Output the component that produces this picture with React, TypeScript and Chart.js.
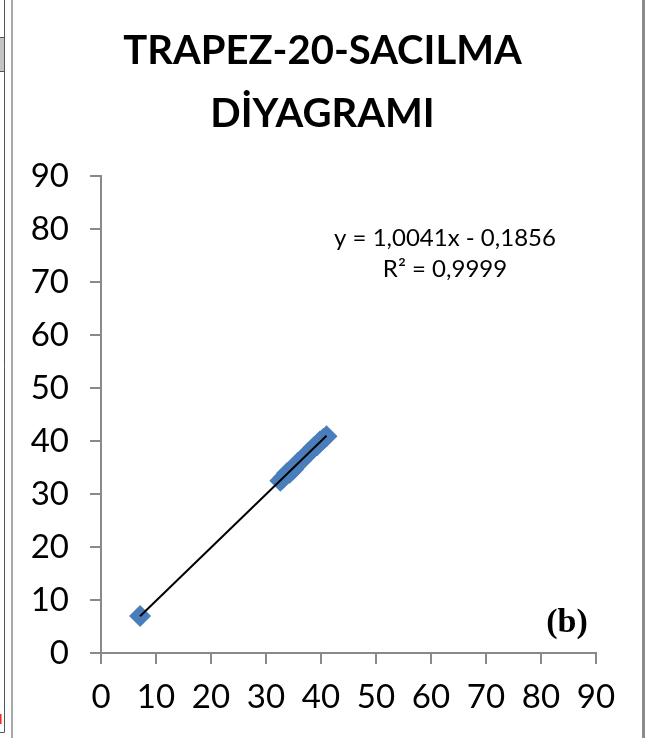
import React, { useEffect, useRef } from "react";
import { Chart, registerables } from "chart.js";

Chart.register(...registerables);

const titleLines = ["TRAPEZ-20-SACILMA", "DİYAGRAMI"];
const xTicks = [0, 10, 20, 30, 40, 50, 60, 70, 80, 90];
const yTicks = [0, 10, 20, 30, 40, 50, 60, 70, 80, 90];
const measuredX = [7.1, 32.6, 33.2, 33.8, 34.3, 34.9, 35.3, 35.8, 36.4, 37.0, 37.6, 38.1, 38.7, 39.3, 39.8, 40.4, 41.0];
const measuredY = [7.0, 32.5, 33.1, 33.9, 34.0, 34.6, 35.2, 35.9, 36.3, 37.0, 37.7, 38.1, 38.8, 39.2, 39.9, 40.4, 40.9];
const slope = 1.0041;
const intercept = -0.1856;
const equationLines = ["y = 1,0041x - 0,1856", "R² = 0,9999"];
const panelLabel = "(b)";

const AXIS_GRAY = "#898989";
const MARKER_BLUE = "#4a7ebb";

export default function App() {
  const ref = useRef<HTMLCanvasElement | null>(null);

  useEffect(() => {
    if (!ref.current) return;
    const xMin = Math.min(...measuredX);
    const xMax = Math.max(...measuredX);
    const trend = [
      { x: xMin, y: slope * xMin + intercept },
      { x: xMax, y: slope * xMax + intercept },
    ];
    const points = measuredX.map((x, i) => ({ x, y: measuredY[i] }));

    const decorPlugin = {
      id: "decor",
      beforeDraw(chart: any) {
        const ctx = chart.ctx;
        ctx.save();
        ctx.fillStyle = "#ffffff";
        ctx.fillRect(0, 0, chart.width, chart.height);
        ctx.fillStyle = "#c4c4c4";
        ctx.fillRect(0, 37, 5, 35);
        ctx.strokeStyle = "#555555";
        ctx.lineWidth = 1;
        ctx.strokeRect(-1, 37.5, 5.5, 34);
        ctx.beginPath();
        ctx.moveTo(4.5, 0);
        ctx.lineTo(4.5, 732.5);
        ctx.lineTo(0, 732.5);
        ctx.stroke();
        ctx.fillStyle = "#ff2020";
        ctx.fillRect(0, 714, 1.5, 10);
        ctx.fillStyle = "#a8a8a8";
        ctx.fillRect(11, 0, 2, chart.height);
        ctx.fillStyle = "#8c8c8c";
        ctx.fillRect(642, 0, 3, chart.height);
        ctx.restore();
      },
      afterDraw(chart: any) {
        const ctx = chart.ctx;
        ctx.save();
        ctx.fillStyle = "#000000";
        ctx.textAlign = "center";
        ctx.textBaseline = "middle";
        ctx.font = "24px Lato";
        ctx.fillText(equationLines[0], 445, 238);
        ctx.fillText(equationLines[1], 445, 269);
        ctx.font = 'bold 34px "Liberation Serif"';
        ctx.fillText(panelLabel, 567, 623);
        ctx.restore();
      },
    };

    const chart = new Chart(ref.current, {
      type: "scatter",
      data: {
        datasets: [
          {
            type: "line",
            label: "Trend",
            data: trend,
            borderColor: "#000000",
            borderWidth: 2,
            pointRadius: 0,
            fill: false,
            showLine: true,
            yAxisID: "y",
          } as any,
          {
            label: "Data",
            data: points,
            backgroundColor: MARKER_BLUE,
            borderColor: MARKER_BLUE,
            borderWidth: 0,
            pointStyle: "rectRot",
            pointRadius: 11,
            yAxisID: "y",
          },
        ],
      },
      options: {
        animation: false,
        responsive: false,
        events: [],
        layout: { padding: { left: 0, right: 0, top: 0, bottom: 0 } },
        plugins: {
          legend: { display: false },
          tooltip: { enabled: false },
          title: {
            display: true,
            text: titleLines,
            color: "#000000",
            font: { family: "Lato", size: 40, weight: "bold", lineHeight: 1.575 },
            padding: { top: 20, bottom: 30 },
          },
        },
        scales: {
          x: {
            type: "linear",
            min: 0,
            max: 90,
            afterBuildTicks: (axis: any) => {
              axis.ticks = xTicks.map((v) => ({ value: v }));
            },
            afterFit: (axis: any) => {
              axis.height = 85;
            },
            grid: {
              display: true,
              drawOnChartArea: false,
              drawTicks: true,
              tickLength: 11,
              color: AXIS_GRAY,
              lineWidth: 2,
            },
            border: { display: true, color: AXIS_GRAY, width: 2 },
            ticks: {
              color: "#000000",
              font: { family: "Lato", size: 33 },
              padding: 14,
              maxRotation: 0,
              autoSkip: false,
            },
          },
          y: {
            type: "linear",
            position: "left",
            min: 0,
            max: 90,
            afterBuildTicks: (axis: any) => {
              axis.ticks = yTicks.map((v) => ({ value: v }));
            },
            afterFit: (axis: any) => {
              axis.width = 101;
            },
            grid: {
              display: true,
              drawOnChartArea: false,
              drawTicks: true,
              tickLength: 11,
              color: AXIS_GRAY,
              lineWidth: 2,
            },
            border: { display: true, color: AXIS_GRAY, width: 2 },
            ticks: {
              color: "#000000",
              font: { family: "Lato", size: 33 },
              padding: 21,
              autoSkip: false,
            },
          },
          yRightSpacer: {
            type: "linear",
            position: "right",
            min: 0,
            max: 90,
            display: true,
            afterFit: (axis: any) => {
              axis.width = 49;
            },
            grid: { display: false, drawTicks: false },
            border: { display: false },
            ticks: { display: false },
          },
        },
      },
      plugins: [decorPlugin],
    });
    return () => chart.destroy();
  }, []);

  return (
    <div style={{ position: "absolute", left: 0, top: 0, width: 645, height: 738 }}>
      <canvas ref={ref} width={645} height={738} style={{ display: "block" }} />
    </div>
  );
}
